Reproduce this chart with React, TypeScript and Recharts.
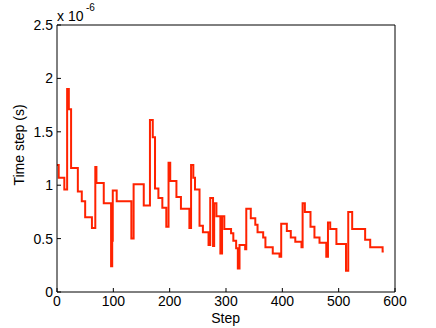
import React from 'react';
import { LineChart, Line, XAxis, YAxis } from 'recharts';

const steps = [
  0, 3, 13, 18, 21, 25, 37, 44, 50, 62, 68, 70, 83, 96, 98, 99, 106, 132, 136, 154,
  165, 170, 174, 180, 187, 194, 198, 201, 212, 220, 235, 238, 242, 245, 253, 259, 269, 272, 277, 279,
  283, 290, 293, 297, 309, 313, 318, 321, 324, 334, 336, 344, 352, 356, 366, 370, 383, 395, 398, 408,
  415, 423, 434, 436, 440, 450, 457, 466, 478, 481, 485, 496, 513, 517, 524, 547, 556, 578, 580,
];
const timeStep = [
  1.19, 1.07, 0.96, 1.9, 1.71, 1.16, 0.94, 0.85, 0.7, 0.6, 1.17, 1.02, 0.83, 0.24, 0.48, 0.95, 0.85, 0.5, 1.01, 0.81,
  1.61, 1.45, 0.97, 0.88, 0.79, 0.61, 1.21, 1.04, 0.89, 0.78, 0.6, 1.19, 1.07, 0.96, 0.62, 0.56, 0.44, 0.88, 0.43, 0.83,
  0.71, 0.36, 0.71, 0.59, 0.55, 0.48, 0.41, 0.22, 0.44, 0.4, 0.78, 0.69, 0.63, 0.56, 0.51, 0.42, 0.36, 0.33, 0.64, 0.57,
  0.51, 0.47, 0.42, 0.83, 0.75, 0.61, 0.51, 0.46, 0.33, 0.65, 0.59, 0.45, 0.2, 0.75, 0.59, 0.49, 0.42, 0.38, 0.38,
];
const xTicks = [0, 100, 200, 300, 400, 500, 600];
const yTicks = [0, 0.5, 1, 1.5, 2, 2.5];

const data = steps.map((s, i) => ({ step: s, dt: timeStep[i] }));

const FONT = "'Liberation Sans', Arial, Helvetica, sans-serif";

export default function App() {
  const tickStyle = { fill: '#000', fontSize: 14, fontFamily: FONT };
  return (
    <div style={{ position: 'absolute', left: 0, top: 0, width: 436, height: 328, background: '#fff' }}>
      <LineChart width={436} height={328} data={data} margin={{ top: 24, right: 40, bottom: 0, left: 0 }}>
        <XAxis
          xAxisId="b"
          dataKey="step"
          type="number"
          domain={[0, 600]}
          ticks={xTicks}
          height={36}
          tickSize={-4}
          tickMargin={8}
          stroke="#000"
          tick={tickStyle}
          interval={0}
        />
        <XAxis
          xAxisId="t"
          orientation="top"
          dataKey="step"
          type="number"
          domain={[0, 600]}
          ticks={xTicks}
          height={1}
          tickSize={-4}
          tick={false}
          stroke="#000"
          interval={0}
        />
        <YAxis
          yAxisId="l"
          type="number"
          domain={[0, 2.5]}
          ticks={yTicks}
          width={57}
          tickSize={-4}
          tickMargin={8}
          stroke="#000"
          tick={tickStyle}
          interval={0}
        />
        <YAxis
          yAxisId="r"
          orientation="right"
          type="number"
          domain={[0, 2.5]}
          ticks={yTicks}
          width={1}
          tickSize={-4}
          tick={false}
          stroke="#000"
          interval={0}
        />
        <Line
          xAxisId="b"
          yAxisId="l"
          type="stepAfter"
          dataKey="dt"
          stroke="#ff2200"
          strokeWidth={2}
          dot={false}
          isAnimationActive={false}
        />
      </LineChart>
      <svg
        width={436}
        height={328}
        style={{ position: 'absolute', left: 0, top: 0, pointerEvents: 'none' }}
      >
        <text x={225.6} y={323} textAnchor="middle" fontSize={14} fontFamily={FONT} fill="#000">
          Step
        </text>
        <text
          transform="translate(24,145) rotate(-90)"
          textAnchor="middle"
          fontSize={14}
          fontFamily={FONT}
          fill="#000"
        >
          Time step (s)
        </text>
        <text x={57} y={21} fontSize={14} fontFamily={FONT} fill="#000">
          x 10
        </text>
        <text x={86} y={11} fontSize={10} fontFamily={FONT} fill="#000">
          -6
        </text>
      </svg>
    </div>
  );
}
